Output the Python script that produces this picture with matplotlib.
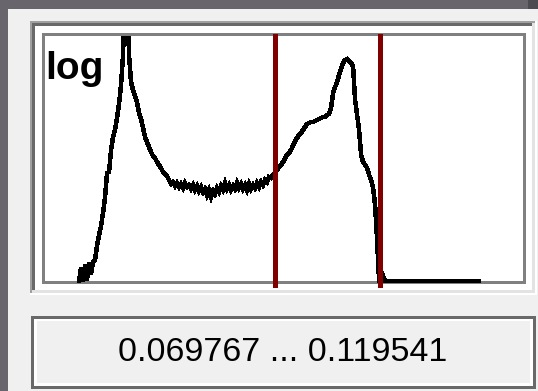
import numpy as np
import matplotlib
matplotlib.use("Agg")
import matplotlib.pyplot as plt
from matplotlib.patches import Rectangle

# Histogram of the channel values (log10 of bin counts), evenly spaced bins
hist_start = -0.0238
bin_width = 0.000953
log_counts = [
    0.00, 0.26, 0.00, 0.32, 0.02, 0.36, 0.14, 0.38, 0.42, 0.70,
    0.92, 1.10, 1.36, 1.68, 2.16, 2.18, 2.62, 2.88, 3.02, 3.26,
    3.54, 3.92, 4.52, 5.82, 5.82, 4.52, 3.98, 3.82, 3.70, 3.58,
    3.36, 3.24, 3.06, 2.88, 2.78, 2.68, 2.58, 2.50, 2.46, 2.38,
    2.32, 2.26, 2.18, 2.14, 2.10, 2.02, 1.94, 1.98, 1.90, 1.96,
    1.88, 1.94, 1.86, 1.96, 1.88, 1.92, 1.84, 1.92, 1.82, 1.90,
    1.80, 1.88, 1.78, 1.84, 1.72, 1.82, 1.68, 1.80, 1.74, 1.86,
    1.78, 1.90, 1.82, 1.96, 1.84, 1.92, 1.82, 1.90, 1.84, 1.96,
    1.86, 1.94, 1.84, 1.92, 1.82, 1.94, 1.84, 1.92, 1.86, 1.96,
    1.88, 1.98, 1.92, 2.02, 1.98, 2.08, 2.06, 2.12, 2.16, 2.22,
    2.28, 2.32, 2.38, 2.46, 2.52, 2.56, 2.62, 2.72, 2.80, 2.86,
    2.92, 2.96, 3.02, 3.08, 3.14, 3.16, 3.18, 3.18, 3.20, 3.22,
    3.24, 3.26, 3.28, 3.28, 3.32, 3.34, 3.46, 3.76, 3.88, 3.98,
    4.12, 4.24, 4.36, 4.42, 4.44, 4.40, 4.36, 4.28, 3.62, 3.32,
    3.02, 2.52, 2.38, 2.32, 2.26, 2.12, 2.02, 1.86, 1.52, 0.82,
    0.00, 0.00, 0.10,
] + [0.0] * 48

# Selected range limits
range_low = 0.069767
range_high = 0.119541
range_text = f"{range_low:.6f} ... {range_high:.6f}"

x_limits = (-0.04, 0.1877)
y_limits = (0.0, 4.9)

W, H = 538, 391
fig = plt.figure(figsize=(W / 100, H / 100), dpi=100)

# Background layer in pixel coordinates for the window chrome
bg = fig.add_axes([0, 0, 1, 1])
bg.set_xlim(0, W)
bg.set_ylim(H, 0)
bg.axis("off")


def rect(x0, y0, x1, y1, color, z=0):
    bg.add_patch(Rectangle((x0, y0), x1 - x0, y1 - y0, facecolor=color,
                           edgecolor="none", antialiased=False, zorder=z))


rect(0, 0, W, H, "#68666c")
rect(8, 9, W, H, "#f0f0f0")
rect(528, 0, W, 9, "#4c4b52")

# Sunken frame around the histogram
rect(30, 21, 537, 295, "#ffffff", 1)
rect(30, 21, 535, 293, "#a0a0a0", 2)
rect(32, 23, 535, 293, "#e3e3e3", 3)
rect(32, 23, 532, 290, "#696969", 4)
rect(35, 26, 532, 290, "#ffffff", 5)
rect(42, 33, 526, 284, "#808080", 6)
rect(45, 36, 523, 281, "#ffffff", 7)

# Text field showing the selected range
rect(31, 316, 536, 389, "#696969", 1)
rect(34, 319, 533, 386, "#ffffff", 2)
rect(37, 321, 530, 383, "#f0f0f0", 3)
bg.text(283, 361, range_text, ha="center", va="baseline", fontsize=24.5,
        family=["Liberation Sans", "DejaVu Sans"],
        color="black", zorder=10)

# Histogram plot area
ax = fig.add_axes([45 / W, (H - 281) / H, 478 / W, 245 / H])
ax.set_xlim(*x_limits)
ax.set_ylim(*y_limits)
ax.axis("off")

centers = hist_start + bin_width * np.arange(len(log_counts))
line, = ax.plot(centers, log_counts, color="black", lw=2.5,
                antialiased=False, solid_joinstyle="miter", zorder=2)
clip = Rectangle((0, -0.02), 1, 1.02, transform=ax.transAxes)
line.set_clip_path(clip)

for v in (range_low, range_high):
    ax.axvline(v, ymin=-0.017, ymax=1.0, color="#800000", lw=2.2,
               antialiased=False, clip_on=False, zorder=3)

fig.text(45, 79, "log", transform=bg.transData, ha="left", va="baseline",
         fontsize=28, fontweight="bold",
         family=["Liberation Sans", "DejaVu Sans"],
         color="black", zorder=10)

fig.savefig("out.png", dpi=100)
